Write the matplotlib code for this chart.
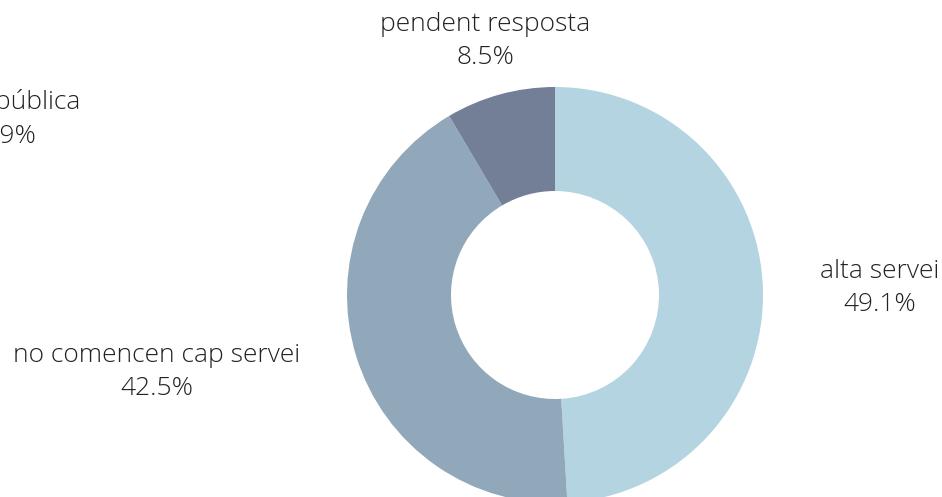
import matplotlib
matplotlib.use("Agg")
import matplotlib.pyplot as plt

# data
#-------------------------------------------------------------------
categories = ["alta servei", "no comencen cap servei", "pendent resposta"]
shares = [49.1, 42.5, 8.5]
colors = ["#B3D4E0", "#91A8BB", "#737E97"]
# fourth category: slice too small to see, its label is cropped at the left edge
hidden_category = "obra pública"
hidden_label = "0.9%"
#-------------------------------------------------------------------

W, H = 942, 497
fig = plt.figure(figsize=(W / 100, H / 100), dpi=100)
ax = fig.add_axes([0, 0, 1, 1])

CX, CY, R = 555, 295, 208
wedges, _ = ax.pie(
    shares,
    colors=colors,
    startangle=-90,
    counterclock=True,
    center=(CX, CY),
    radius=R,
    wedgeprops=dict(width=R * 0.5, edgecolor="none"),
    frame=True,
)
ax.set_xlim(0, W)
ax.set_ylim(H, 0)
ax.set_aspect("equal")
ax.axis("off")

font = dict(family=["Open Sans", "DejaVu Sans"], fontweight=300, fontsize=19,
            color="#222222", ha="center", va="center", linespacing=1.45)

label_pos = [(880, 288), (157, 372), (485, 41)]
for (x, y), cat, s in zip(label_pos, categories, shares):
    ax.text(x, y, f"{cat}\n{s:.1f}%", **font)
ax.text(7, 119, f"{hidden_category}\n{hidden_label}", **font)

fig.savefig("out.png", dpi=100)
